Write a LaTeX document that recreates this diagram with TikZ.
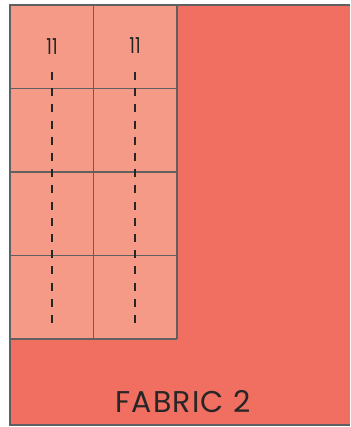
\documentclass[tikz,border=0pt]{standalone}
\usepackage{fontspec}
\setmainfont{Poppins}
\usetikzlibrary{positioning}
\definecolor{FabricRed}{HTML}{F06F60}
\definecolor{PieceSalmon}{HTML}{F49A87}
\definecolor{SeamGray}{HTML}{606060}
\definecolor{InkDark}{HTML}{262626}
\tikzset{
  fabric/.style={fill=FabricRed},
  edge/.style={draw=SeamGray,line width=1.4pt},
  piecefill/.style={fill=PieceSalmon},
  seam/.style={draw=SeamGray,line width=1.5pt},
  grain/.style={draw=InkDark,line width=1.6pt,dash pattern=on 8pt off 8.2pt},
  piecelabel/.style={font=\fontsize{22}{22}\selectfont\addfontfeature{FakeStretch=0.8},text=InkDark,inner sep=0pt},
  fabriclabel/.style={font=\fontsize{30}{30}\selectfont\addfontfeature{LetterSpace=4},text=InkDark,inner sep=0pt}
}
\begin{document}
\begin{tikzpicture}[x=1pt,y=-1pt]
  \useasboundingbox (0,0) rectangle (350,427);
  \clip (0,0) rectangle (350,427);
  \fill[fabric] (10,5) rectangle (350,425);
  \draw[edge] (350,5) -- (10,5) -- (10,425) -- (350,425);
  % cut pieces, 2 columns x 4 rows
  \fill[piecefill] (10,5) rectangle (177,339);
  \foreach \x in {10,93.5,177}{
    \draw[seam] (\x,5) -- (\x,339);
  }
  \foreach \row in {0,1,2,3,4}{
    \draw[seam] (10,5+83.5*\row) -- (177,5+83.5*\row);
  }
  \node[piecelabel] (lblA) at (52,47) {11};
  \node[piecelabel] (lblB) at (135,46) {11};
  \coordinate (grainAtop) at (52,72);
  \coordinate (grainAbot) at (52,323);
  \coordinate (grainBtop) at (135,72);
  \coordinate (grainBbot) at (135,323);
  \draw[grain] (grainAtop) -- (grainAbot);
  \draw[grain] (grainBtop) -- (grainBbot);
  \node[fabriclabel] (fabname) at (183,402) {FABRIC 2};
\end{tikzpicture}
\end{document}
